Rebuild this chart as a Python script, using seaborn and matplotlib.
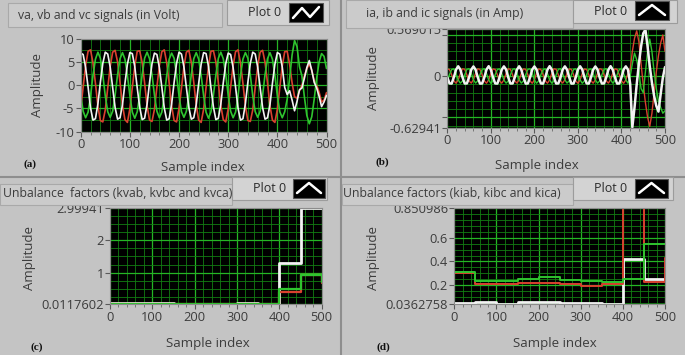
import matplotlib
matplotlib.use('Agg')
import matplotlib.pyplot as plt
import seaborn as sns
import pandas as pd
from matplotlib.patches import Rectangle
from matplotlib.lines import Line2D
from matplotlib.ticker import FixedLocator, MultipleLocator

# ---------------- data ----------------
sample_idx = list(range(0, 505, 5))          # sample index axis for (a) and (b)
block_idx = [0, 50, 100, 150, 200, 250, 300, 350, 400, 450, 500]  # for (c) and (d)

# (a) voltages
va_white = [6.9, 6.6, 3.8, -0.4, -4.9, -7.5, -7.2, -4.0, 0.6, 4.7,
            7.1, 6.7, 3.9, -0.5, -4.8, -7.3, -7.0, -4.2, 0.4, 4.5,
            7.0, 6.8, 4.0, -0.6, -4.7, -7.4, -7.1, -4.1, 0.5, 4.6,
            6.9, 6.6, 3.8, -0.4, -4.9, -7.5, -7.2, -4.0, 0.6, 4.7,
            7.1, 6.7, 3.9, -0.5, -4.8, -7.3, -7.0, -4.2, 0.4, 4.5,
            7.0, 6.8, 4.0, -0.6, -4.7, -7.4, -7.1, -4.1, 0.5, 4.6,
            6.9, 6.6, 3.8, -0.4, -4.9, -7.5, -7.2, -4.0, 0.6, 4.7,
            7.1, 6.7, 3.9, -0.5, -4.8, -7.3, -7.0, -4.2, 0.4, 4.5,
            7.0, 6.7, 3.9, -0.5,
            -2.0, -1.2, -3.2, -5.5, -3.5, -1.0, -0.6, 1.5, 3.8, 5.3,
            3.2, 0.6, -0.6, -2.4, -4.6, -3.6, -2.2]
vb_red = [-5.0, -0.4, 4.2, 7.3, 7.6, 4.8, 0.4, -4.5, -7.6, -7.9,
          -5.3, -0.6, 4.0, 7.1, 7.5, 5.0, 0.6, -4.3, -7.4, -8.0,
          -5.1, -0.5, 4.1, 7.3, 7.4, 4.9, 0.5, -4.4, -7.5, -7.8,
          -5.2, -0.4, 4.2, 7.2, 7.6, 4.8, 0.4, -4.5, -7.6, -7.9,
          -5.0, -0.6, 4.0, 7.1, 7.5, 4.9, 0.6, -4.3, -7.5, -8.0,
          -5.2, -0.5, 4.1, 7.3, 7.4, 5.0, 0.5, -4.4, -7.4, -7.9,
          -5.1, -0.4, 4.2, 7.2, 7.6, 4.8, 0.4, -4.5, -7.6, -7.8,
          -5.3, -0.5, 4.0, 7.1, 7.5, 4.9, 0.5, -4.4, -7.5, -8.0,
          -5.2, -0.5, 4.1, 7.2,
          7.3, 4.5, 0.5, -2.5, -2.8, -1.2, 0.0, 2.0, 3.5, 4.6,
          3.2, 1.0, 0.0, -1.5, -3.6, -3.2, -1.6]
vc_green = [-2.1, -5.6, -7.0, -5.8, -2.3, 2.1, 5.6, 7.1, 5.8, 2.2,
            -2.3, -5.7, -6.9, -5.6, -2.2, 2.3, 5.7, 7.0, 5.6, 2.1,
            -2.2, -5.8, -7.1, -5.7, -2.1, 2.2, 5.8, 7.1, 5.7, 2.3,
            -2.1, -5.6, -7.0, -5.8, -2.3, 2.1, 5.6, 6.9, 5.8, 2.2,
            -2.3, -5.7, -6.9, -5.6, -2.2, 2.3, 5.7, 7.0, 5.6, 2.1,
            -2.2, -5.8, -7.1, -5.7, -2.1, 2.2, 5.8, 7.1, 5.7, 2.3,
            -2.1, -5.6, -7.0, -5.8, -2.3, 2.1, 5.6, 7.0, 5.8, 2.2,
            -2.3, -5.7, -6.9, -5.6, -2.2, 2.3, 5.7, 7.0, 5.6, 2.1,
            -2.2, -5.7, -7.0, -5.7,
            -3.0, 1.5, 6.5, 9.6, 8.3, 4.0, 2.0, -2.5, -6.5, -8.3,
            -6.8, -3.0, 1.5, 5.0, 6.8, 6.2, 3.6]

# (b) currents
ia_white = [-0.015, -0.088, -0.090, -0.014, 0.078, 0.120, 0.080,
            -0.016, -0.089, -0.088, -0.015, 0.079, 0.118, 0.078,
            -0.014, -0.090, -0.089, -0.016, 0.080, 0.121, 0.079,
            -0.015, -0.088, -0.090, -0.014, 0.078, 0.119, 0.080,
            -0.016, -0.089, -0.088, -0.015, 0.079, 0.120, 0.078,
            -0.014, -0.090, -0.089, -0.016, 0.080, 0.118, 0.079,
            -0.015, -0.088, -0.090, -0.014, 0.078, 0.121, 0.080,
            -0.016, -0.089, -0.088, -0.015, 0.079, 0.119, 0.078,
            -0.014, -0.090, -0.089, -0.016, 0.080, 0.120, 0.079,
            -0.015, -0.088, -0.090, -0.014, 0.078, 0.118, 0.080,
            -0.016, -0.089, -0.088, -0.015, 0.079, 0.121, 0.078,
            -0.014, -0.090, -0.089, -0.016, 0.080, 0.119, 0.079,
            -0.090, -0.620, -0.380, -0.100, 0.150, 0.360, 0.520, 0.565, 0.360,
            0.120, -0.080, -0.240, -0.360, -0.430, -0.220, -0.020, 0.110]
ib_red = [0.088, 0.081, 0.018, -0.056, -0.085, -0.046, 0.032,
          0.090, 0.083, 0.016, -0.058, -0.084, -0.044, 0.034,
          0.089, 0.082, 0.017, -0.057, -0.086, -0.045, 0.033,
          0.088, 0.081, 0.018, -0.056, -0.085, -0.046, 0.032,
          0.090, 0.083, 0.016, -0.058, -0.084, -0.044, 0.034,
          0.089, 0.082, 0.017, -0.057, -0.086, -0.045, 0.033,
          0.088, 0.081, 0.018, -0.056, -0.085, -0.046, 0.032,
          0.090, 0.083, 0.016, -0.058, -0.084, -0.044, 0.034,
          0.089, 0.082, 0.017, -0.057, -0.086, -0.045, 0.033,
          0.088, 0.081, 0.018, -0.056, -0.085, -0.046, 0.032,
          0.090, 0.083, 0.016, -0.058, -0.084, -0.044, 0.034,
          0.089, 0.082, 0.017, -0.057, -0.086, -0.045, 0.033,
          0.080, 0.300, 0.460, 0.550, 0.420, 0.150, -0.100, -0.320, -0.500,
          -0.610, -0.450, -0.200, 0.050, 0.250, 0.400, 0.500, 0.300]
ic_green = [-0.056, 0.018, 0.081, 0.088, 0.032, -0.046, -0.085,
            -0.058, 0.016, 0.083, 0.090, 0.034, -0.044, -0.084,
            -0.057, 0.017, 0.082, 0.089, 0.033, -0.045, -0.086,
            -0.056, 0.018, 0.081, 0.088, 0.032, -0.046, -0.085,
            -0.058, 0.016, 0.083, 0.090, 0.034, -0.044, -0.084,
            -0.057, 0.017, 0.082, 0.089, 0.033, -0.045, -0.086,
            -0.056, 0.018, 0.081, 0.088, 0.032, -0.046, -0.085,
            -0.058, 0.016, 0.083, 0.090, 0.034, -0.044, -0.084,
            -0.057, 0.017, 0.082, 0.089, 0.033, -0.045, -0.086,
            -0.056, 0.018, 0.081, 0.088, 0.032, -0.046, -0.085,
            -0.058, 0.016, 0.083, 0.090, 0.034, -0.044, -0.084,
            -0.057, 0.017, 0.082, 0.089, 0.033, -0.045, -0.086,
            0.000, 0.150, 0.280, 0.200, 0.050, -0.150, -0.200, 0.050, 0.300,
            0.450, 0.300, 0.050, -0.150, -0.300, -0.380, -0.450, -0.420]

# (c) voltage unbalance factors
kvab_white = [0.065, 0.065, 0.065, 0.025, 0.025, 0.025, 0.055, 0.025, 1.30, 2.99941, 2.99941]
kvbc_red = [0.0118, 0.030, 0.0118, 0.020, 0.020, 0.020, 0.030, 0.020, 0.40, 0.93, 0.66]
kvca_green = [0.030, 0.0118, 0.025, 0.0118, 0.0118, 0.0118, 0.0118, 0.0118, 0.50, 0.92, 0.70]

# (d) current unbalance factors
kiab_white = [0.046, 0.052, 0.0363, 0.058, 0.058, 0.050, 0.050, 0.0363, 0.42, 0.25, 0.23]
kibc_red = [0.305, 0.205, 0.205, 0.215, 0.215, 0.205, 0.190, 0.205, 0.850986, 0.222, 0.43]
kica_green = [0.310, 0.235, 0.235, 0.250, 0.265, 0.245, 0.232, 0.222, 0.250, 0.552, 0.552]

titles = ["va, vb and vc signals (in Volt)", "ia, ib and ic signals (in Amp)",
          "Unbalance  factors (kvab, kvbc and kvca)", "Unbalance factors (kiab, kibc and kica)"]
panel_tags = ["(a)", "(b)", "(c)", "(d)"]

# ---------------- style ----------------
sns.set_theme(style='dark')
plt.rcParams['font.family'] = ['Open Sans', 'DejaVu Sans']

BG = '#c4c4c4'
WHITE, RED, GREEN = '#f2f2f2', '#d9412f', '#2fc42f'
TXT = '#3c3c3c'

W, H = 685, 355
fig = plt.figure(figsize=(W / 100, H / 100), dpi=100, facecolor=BG)


def px_axes(x0, y0, x1, y1):
    return fig.add_axes([x0 / W, 1 - y1 / H, (x1 - x0) / W, (y1 - y0) / H])


def rect(x, y, w, h, fc, ec, lw=0.8, z=5):
    fig.patches.append(Rectangle((x / W, 1 - (y + h) / H), w / W, h / H,
                                 transform=fig.transFigure, facecolor=fc,
                                 edgecolor=ec, linewidth=lw, zorder=z))


def style_axes(ax, yticks, ylabels, ymin, ymax, yminor, extra_ticks=()):
    ax.set_facecolor('black')
    ax.set_xlim(0, 500)
    ax.set_ylim(ymin, ymax)
    ax.xaxis.set_major_locator(FixedLocator([0, 100, 200, 300, 400, 500]))
    ax.xaxis.set_minor_locator(MultipleLocator(20))
    ax.set_yticks(list(yticks) + list(extra_ticks))
    ax.set_yticklabels(list(ylabels) + [''] * len(extra_ticks))
    ax.yaxis.set_minor_locator(MultipleLocator(yminor))
    ax.set_xticklabels(['0', '100', '200', '300', '400', '500'])
    ax.grid(which='major', color='#25b525', linewidth=0.9)
    ax.grid(which='minor', color='#137d13', linewidth=0.6)
    ax.set_axisbelow(True)
    ax.tick_params(axis='both', which='major', direction='out', length=3.5, width=0.8,
                   color='#5a5a5a', labelcolor=TXT, labelsize=9.3, pad=1,
                   bottom=True, left=True)
    ax.tick_params(axis='x', which='minor', direction='out', length=2, width=0.6,
                   color='#6a6a6a', bottom=True)
    ax.tick_params(axis='y', which='minor', length=0)
    for s in ax.spines.values():
        s.set_color('#8c8c8c')
        s.set_linewidth(0.8)
    ax.set_xlabel('')
    ax.set_ylabel('')


def draw_series(ax, x, ys, colors, widths, step=False):
    for y, c, lw in zip(ys, colors, widths):
        df = pd.DataFrame({'sample': x, 'value': y})
        kw = dict(drawstyle='steps-post') if step else {}
        sns.lineplot(data=df, x='sample', y='value', color=c, linewidth=lw,
                     estimator=None, sort=False, legend=False, ax=ax, **kw)


# panel separators
fig.add_artist(Line2D([340.5 / W, 340.5 / W], [0, 1], color='#8e8e8e', lw=1.5))
fig.add_artist(Line2D([0, 1], [1 - 176.5 / H] * 2, color='#8e8e8e', lw=1.5))

# ---- (a)
axa = px_axes(80.7, 38.7, 326.5, 131.7)
draw_series(axa, sample_idx, [vb_red, vc_green, va_white], [RED, GREEN, WHITE], [1.2, 1.2, 1.2])
style_axes(axa, [-10, -5, 0, 5, 10], ['-10', '-5', '0', '5', '10'], -10, 10, 2.5)

# ---- (b)
axb = px_axes(447.3, 29.3, 665, 128.0)
draw_series(axb, sample_idx, [ib_red, ic_green, ia_white], [RED, GREEN, WHITE], [1.0, 1.0, 1.8])
style_axes(axb, [-0.62941, 0, 0.569015], ['-0.62941', '0', '0.569015'], -0.62941, 0.569015, 0.1,
           extra_ticks=(-0.5, 0.5))

# ---- (c)
axc = px_axes(110, 208.3, 321.7, 304.3)
draw_series(axc, block_idx, [kvab_white, kvbc_red, kvca_green], [WHITE, RED, GREEN], [2.0, 1.6, 1.6], step=True)
style_axes(axc, [0.0117602, 1, 2, 2.99941], ['0.0117602', '1', '2', '2.99941'], 0.0117602, 2.99941, 0.25)

# ---- (d)
axd = px_axes(454.3, 208.3, 665, 304.3)
draw_series(axd, block_idx, [kiab_white, kibc_red, kica_green], [WHITE, RED, GREEN], [2.0, 1.4, 1.4], step=True)
style_axes(axd, [0.0362758, 0.2, 0.4, 0.6, 0.850986], ['0.0362758', '0.2', '0.4', '0.6', '0.850986'],
           0.0362758, 0.850986, 0.05)

# ---- axis labels, title boxes, legends
label_pos = {  # (sample-index x, y, amplitude x, y) in pixels
    0: (203, 167, 37, 85),
    1: (537, 165, 373, 78),
    2: (208, 344, 30, 258),
    3: (555, 344, 373, 258),
}
tag_pos = {0: (30, 164), 1: (382, 162), 2: (37, 347), 3: (383, 347)}
title_box = {0: (8, 3, 214, 24), 1: (346, 0, 227, 28), 2: (0, 184, 232, 21), 3: (342, 184, 231, 21)}
title_txt = {0: (18, 16), 1: (366, 14), 2: (3, 193), 3: (343, 193)}
legend_box = {0: (227, 0, 102, 25), 1: (573, 0, 104, 23), 2: (232, 177, 95, 23), 3: (573, 177, 100, 23)}
icon_box = {0: (289, 3, 34, 19), 1: (635, 1, 34, 19), 2: (293, 179, 32, 19), 3: (635, 179, 33, 19)}

for i in range(4):
    sx, sy, ax_, ay = label_pos[i]
    fig.text(sx / W, 1 - sy / H, 'Sample index', ha='center', va='center', fontsize=9.5, color=TXT)
    fig.text(ax_ / W, 1 - ay / H, 'Amplitude', ha='center', va='center', rotation=90, fontsize=9.5, color=TXT)
    tx, ty = tag_pos[i]
    fig.text(tx / W, 1 - ty / H, panel_tags[i], ha='center', va='center', fontsize=8,
             fontweight='bold', family=['Liberation Serif'], color='#111111')
    bx, by, bw, bh = title_box[i]
    rect(bx, by, bw, bh, '#cbcbcb', '#a9a9a9', z=5)
    lx, ly, lw_, lh = legend_box[i]
    rect(lx, ly, lw_, lh, '#d3d3d3', '#9c9c9c', z=5)
    fig.text((lx + 38) / W, 1 - (ly + lh / 2) / H, 'Plot 0', ha='center', va='center',
             fontsize=9, color='#2a2a2a', zorder=7)
    ix, iy, iw, ih = icon_box[i]
    rect(ix, iy, iw, ih, 'black', '#555555', z=6)
    if i == 0:
        pts = [(ix + 4, iy + ih - 4), (ix + 13, iy + 5), (ix + 21, iy + ih - 5), (ix + iw - 4, iy + 4)]
    else:
        pts = [(ix + 4, iy + ih - 5), (ix + iw / 2, iy + 4), (ix + iw - 4, iy + ih - 5)]
    fig.add_artist(Line2D([p[0] / W for p in pts], [1 - p[1] / H for p in pts],
                          color='white', lw=1.8, zorder=7))
    tx2, ty2 = title_txt[i]
    fig.text(tx2 / W, 1 - ty2 / H, titles[i], ha='left', va='center', fontsize=8.8,
             color=TXT, zorder=8)

fig.savefig('out.png', dpi=100, facecolor=BG)
